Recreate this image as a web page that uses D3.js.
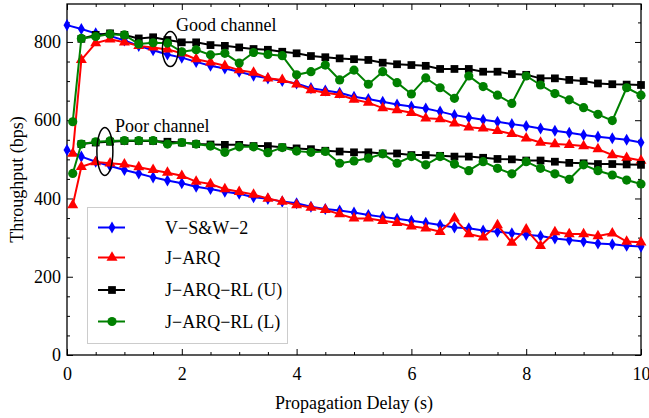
<!DOCTYPE html>
<html><head><meta charset="utf-8">
<script src="https://cdn.jsdelivr.net/npm/d3@7"></script>
<style>
html,body{margin:0;padding:0;background:#fff;}
svg{display:block;}
text{font-family:"Liberation Serif","Times New Roman",serif;fill:#000;}
</style></head>
<body>
<svg id="chart" width="649" height="418"></svg>
<script>
// ---- data ----
const delaysBlue = [0,0.25,0.5,0.75,1,1.25,1.5,1.75,2,2.25,2.5,2.75,3,3.25,3.5,3.75,4,4.25,4.5,4.75,5,5.25,5.5,5.75,6,6.25,6.5,6.75,7,7.25,7.5,7.75,8,8.25,8.5,8.75,9,9.25,9.5,9.75,10];
const delaysRG = [0.1,0.25,0.5,0.75,1,1.25,1.5,1.75,2,2.25,2.5,2.75,3,3.25,3.5,3.75,4,4.25,4.5,4.75,5,5.25,5.5,5.75,6,6.25,6.5,6.75,7,7.25,7.5,7.75,8,8.25,8.5,8.75,9,9.25,9.5,9.75,10];
const delaysBlack = [0.25,0.5,0.75,1,1.25,1.5,1.75,2,2.25,2.5,2.75,3,3.25,3.5,3.75,4,4.25,4.5,4.75,5,5.25,5.5,5.75,6,6.25,6.5,6.75,7,7.25,7.5,7.75,8,8.25,8.5,8.75,9,9.25,9.5,9.75,10];

const vswGood = [843,833,822,815,804,790,779,768,760,749,739,732,724,714,707,700,694,682,676,670,660,654,647,640,635,630,622,613,607,601,596,590,585,579,573,568,562,558,554,550,543];
const jarqGood = [515,754,797,807,799,790,786,781,771,756,748,739,728,722,707,703,692,677,670,665,653,645,631,626,619,605,603,592,582,579,573,565,554,543,539,537,534,526,511,504,497];
const rlUGood = [808,818,822,818,809,812,805,799,799,792,790,786,782,780,775,771,764,761,758,756,754,747,743,741,739,731,731,731,724,724,718,716,707,707,703,700,694,692,691,690];
const rlLGood = [596,809,814,820,818,795,798,797,775,780,767,771,746,773,768,765,716,724,741,703,728,692,724,696,667,708,683,656,713,686,664,643,713,690,668,652,632,615,599,683,664];

const vswPoor = [524,507,494,483,473,464,454,446,439,430,424,417,412,403,399,392,388,379,373,369,364,358,353,348,343,338,332,326,324,318,315,311,307,304,298,294,290,285,283,279,277];
const jarqPoor = [383,481,493,490,487,480,473,466,458,443,437,424,417,410,400,392,383,377,371,360,349,349,343,338,329,324,315,349,309,301,332,287,321,279,314,309,309,304,311,290,288];
const rlUPoor = [539,543,545,547,547,547,545,543,539,538,537,537,534,534,531,528,526,522,520,518,518,515,515,511,511,509,507,507,504,501,500,497,497,494,491,490,488,488,487,486];
const rlLPoor = [464,539,545,547,548,548,548,539,543,539,534,518,532,532,517,530,521,518,520,490,496,503,514,490,507,486,507,488,471,494,477,463,494,477,463,449,486,471,460,447,437];

const xMajor = [0,2,4,6,8,10];
const xMinor = [0.5,1,1.5,2.5,3,3.5,4.5,5,5.5,6.5,7,7.5,8.5,9,9.5];
const yMajor = [0,200,400,600,800];
const yMinor = [50,100,150,250,300,350,450,500,550,650,700,750,850];

const seriesNames = ["V\u2212S&W\u22122","J\u2212ARQ","J\u2212ARQ\u2212RL (U)","J\u2212ARQ\u2212RL (L)"];
const colors = ["#0000ff","#ff0000","#000000","#008000"];

// ---- layout ----
const svg = d3.select("#chart");
const L = 67, R = 641, T = 4, B = 355;
const x = d3.scaleLinear().domain([0,10]).range([L,R]);
const y = d3.scaleLinear().domain([0,897]).range([B,T]);

const symbols = [
  d3.symbol().type(d3.symbolDiamond).size(42),
  d3.symbol().type(d3.symbolTriangle).size(52),
  d3.symbol().type(d3.symbolSquare).size(60),
  d3.symbol().type(d3.symbolCircle).size(66)
];

// axes (inward ticks, mirrored)
function tickAxis(axisFn, scale, vals, size, fmt, transform, pad){
  const a = axisFn(scale).tickValues(vals).tickSizeInner(-size).tickSizeOuter(0).tickPadding(pad||0);
  if(!fmt) a.tickFormat("");
  const g = svg.append("g").attr("transform", transform).call(a);
  g.select(".domain").remove();
  g.selectAll("line").attr("stroke","#000").attr("stroke-width",1);
  return g;
}
const gxb = tickAxis(d3.axisBottom, x, xMajor, 6, true, `translate(0,${B})`, 12);
tickAxis(d3.axisBottom, x, xMinor, 3, false, `translate(0,${B})`);
tickAxis(d3.axisTop, x, xMajor, 6, false, `translate(0,${T})`);
tickAxis(d3.axisTop, x, xMinor, 3, false, `translate(0,${T})`);
const gyl = tickAxis(d3.axisLeft, y, yMajor, 6, true, `translate(${L},0)`, 6);
tickAxis(d3.axisLeft, y, yMinor, 3, false, `translate(${L},0)`);
tickAxis(d3.axisRight, y, yMajor, 6, false, `translate(${R},0)`);
tickAxis(d3.axisRight, y, yMinor, 3, false, `translate(${R},0)`);
gxb.selectAll("text").attr("font-family","Liberation Serif").attr("font-size",18).attr("fill","#000");
gyl.selectAll("text").attr("font-family","Liberation Serif").attr("font-size",18).attr("fill","#000");

svg.append("rect").attr("x",L).attr("y",T).attr("width",R-L).attr("height",B-T)
  .attr("fill","none").attr("stroke","#000").attr("stroke-width",1.3);

// series
const line = d3.line().x(d=>x(d[0])).y(d=>y(d[1]));
const groups = [
  [delaysBlue, vswGood, vswPoor],
  [delaysRG, jarqGood, jarqPoor],
  [delaysBlack, rlUGood, rlUPoor],
  [delaysRG, rlLGood, rlLPoor]
];
groups.forEach((g,k)=>{
  [g[1], g[2]].forEach(vals=>{
    const pts = vals.map((v,i)=>[g[0][i], v]);
    svg.append("path").datum(pts).attr("d",line).attr("fill","none")
      .attr("stroke",colors[k]).attr("stroke-width",2);
    svg.append("g").selectAll("path").data(pts).join("path")
      .attr("d",symbols[k]).attr("fill",colors[k])
      .attr("transform",d=>`translate(${x(d[0])},${y(d[1])})`);
  });
});

// annotations
svg.append("ellipse").attr("cx",x(1.8)).attr("cy",y(782)).attr("rx",8).attr("ry",17.5)
  .attr("fill","none").attr("stroke","#000").attr("stroke-width",1.5);
svg.append("text").attr("x",176).attr("y",31).attr("font-size",18).text("Good channel");
svg.append("ellipse").attr("cx",x(0.66)).attr("cy",y(520)).attr("rx",8).attr("ry",24)
  .attr("fill","none").attr("stroke","#000").attr("stroke-width",1.5);
svg.append("text").attr("x",115).attr("y",132).attr("font-size",18).text("Poor channel");

// legend
svg.append("rect").attr("x",87.5).attr("y",207.5).attr("width",200).attr("height",136)
  .attr("fill","#fff").attr("stroke","#cccccc").attr("stroke-width",1);
const legY = [227.5, 257.5, 290, 321.5];
seriesNames.forEach((n,k)=>{
  svg.append("line").attr("x1",98).attr("x2",125).attr("y1",legY[k]).attr("y2",legY[k])
    .attr("stroke",colors[k]).attr("stroke-width",2);
  svg.append("path").attr("d",symbols[k]).attr("fill",colors[k])
    .attr("transform",`translate(112,${legY[k]})`);
  svg.append("text").attr("x",165).attr("y",legY[k]).attr("dy","0.35em")
    .attr("font-size",18).text(n);
});

// axis titles
svg.append("text").attr("x",(L+R)/2).attr("y",409).attr("text-anchor","middle")
  .attr("font-size",18).text("Propagation Delay (s)");
svg.append("text").attr("transform",`translate(23,${(T+B)/2}) rotate(-90)`)
  .attr("text-anchor","middle").attr("font-size",18).text("Throughput (bps)");
</script>
</body></html>
